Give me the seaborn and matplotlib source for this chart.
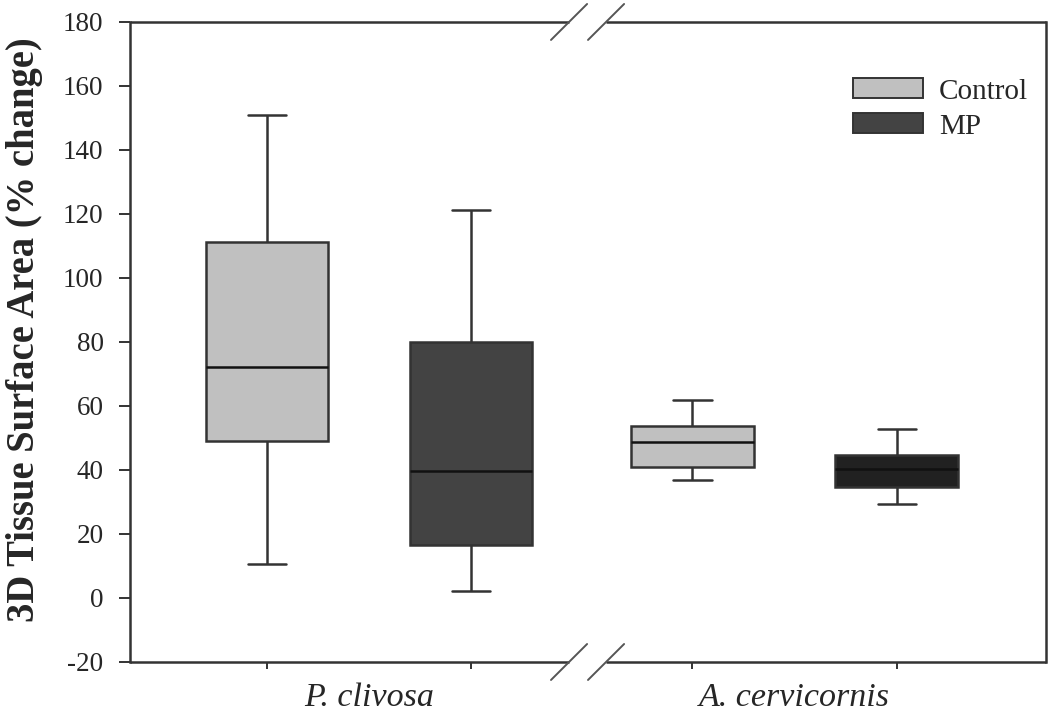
import numpy as np
import pandas as pd
import matplotlib
matplotlib.use("Agg")
import matplotlib.pyplot as plt
from matplotlib.patches import Patch
import seaborn as sns

# five-number summaries: min, Q1, median, Q3, max
species = ["P. clivosa", "A. cervicornis"]
treatments = ["Control", "MP"]
pc_control = [10.5, 49.2, 72.3, 111.3, 150.9]
pc_mp = [2.3, 16.6, 39.8, 80.0, 121.3]
ac_control = [37.0, 41.0, 48.6, 53.6, 61.8]
ac_mp = [29.5, 34.7, 40.2, 44.6, 52.8]

y_ticks = list(range(-20, 181, 20))

rows = []
for sp, tr, vals in [("P. clivosa", "Control", pc_control),
                     ("P. clivosa", "MP", pc_mp),
                     ("A. cervicornis", "Control", ac_control),
                     ("A. cervicornis", "MP", ac_mp)]:
    for v in vals:
        rows.append({"Species": sp, "Treatment": tr, "Value": v})
df = pd.DataFrame(rows)

sns.set_style("ticks")
plt.rcParams["font.family"] = ["Liberation Serif", "DejaVu Serif"]

fig = plt.figure(figsize=(10.5, 7.18), dpi=100)
ax = fig.add_axes([0.1238, 0.078, 0.8724, 0.8914])

palette = {"Control": "#c0c0c0", "MP": "#434343"}
sns.boxplot(data=df, x="Species", y="Value", hue="Treatment", order=species,
            hue_order=treatments, palette=palette, whis=(0, 100), width=0.96,
            gap=0.4, linecolor="#333333", linewidth=1.8, saturation=1,
            medianprops={"color": "#111111"}, capwidths=0.09, ax=ax)

# the A. cervicornis MP box is drawn darker in the original
for p in ax.patches:
    try:
        xs = p.get_path().vertices[:, 0]
    except Exception:
        continue
    if xs.mean() > 1.0:
        p.set_facecolor("#212121")

ax.set_xlim(-0.5617, 1.591)
ax.set_ylim(-20, 180)
ax.set_yticks(y_ticks)
ax.set_yticklabels([str(t) for t in y_ticks], fontsize=19.5)
ax.tick_params(axis="y", length=8, width=1.4, color="#333333", pad=11)

ax.set_xticks([0, 1])
ax.set_xticklabels(species, fontsize=24.5, style="italic")
ax.tick_params(axis="x", which="major", length=0, pad=15)
ax.set_xticks([-0.24, 0.24, 0.76, 1.24], minor=True)
ax.tick_params(axis="x", which="minor", length=5, width=1.4, color="#333333")
ax.set_xlabel("")

ax.set_ylabel("3D Tissue Surface Area (% change)", fontsize=27.8, fontweight="bold")
ax.yaxis.set_label_coords(-0.095, 0.52)

for s in ["left", "right"]:
    ax.spines[s].set_color("#333333")
    ax.spines[s].set_linewidth(1.8)
ax.spines["top"].set_visible(False)
ax.spines["bottom"].set_visible(False)

# broken top/bottom axis lines and the break marks
bx0, bx1 = 0.4793, 0.5197
for yy in (0, 1):
    ax.plot([0, bx0], [yy, yy], transform=ax.transAxes, color="#333333",
            lw=1.8, clip_on=False, solid_capstyle="butt")
    ax.plot([bx1, 1], [yy, yy], transform=ax.transAxes, color="#333333",
            lw=1.8, clip_on=False, solid_capstyle="butt")
    for bx in (bx0, bx1):
        ax.plot([bx - 0.0197, bx + 0.0197], [yy - 0.0281, yy + 0.0281],
                transform=ax.transAxes, color="#555555", lw=1.4, clip_on=False)

if ax.get_legend() is not None:
    ax.get_legend().remove()
handles = [Patch(facecolor=palette["Control"], edgecolor="#333333", linewidth=1.4),
           Patch(facecolor=palette["MP"], edgecolor="#333333", linewidth=1.4)]
ax.legend(handles, treatments, loc="upper left", bbox_to_anchor=(0.789, 0.912),
          frameon=False, fontsize=21, handlelength=2.4, handleheight=0.68,
          handletextpad=0.55, labelspacing=0.3, borderpad=0, borderaxespad=0)

fig.savefig("out.png", dpi=100)
